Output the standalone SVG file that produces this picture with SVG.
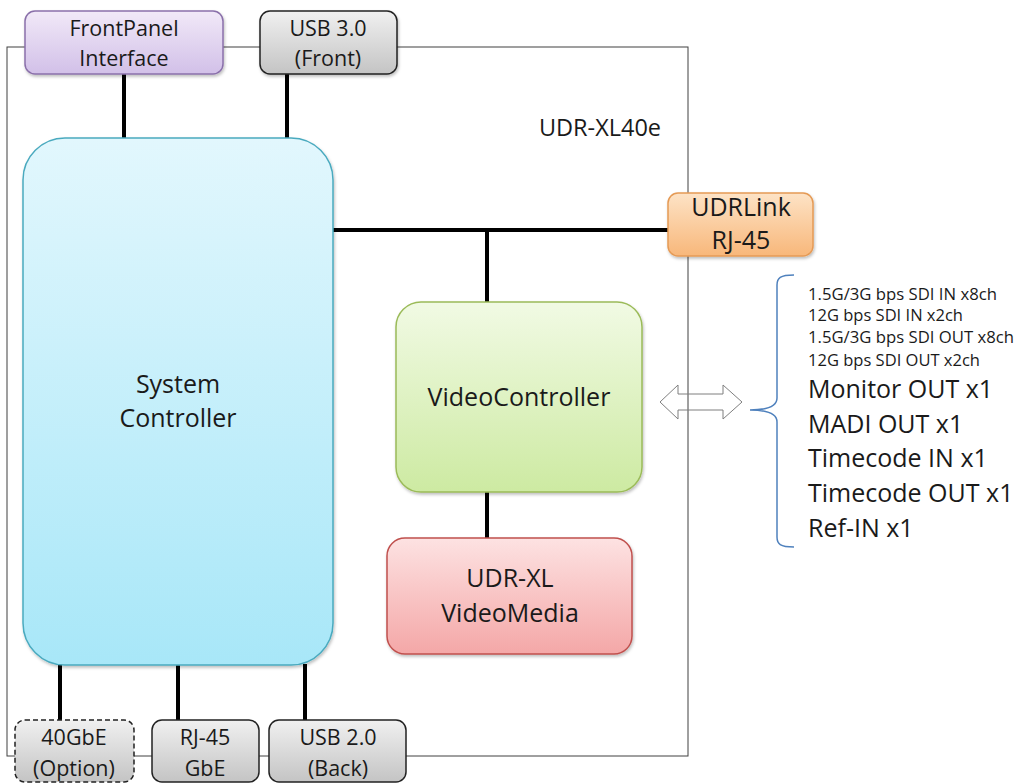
<svg xmlns="http://www.w3.org/2000/svg" width="1019" height="783" viewBox="0 0 1019 783">
<defs>
<linearGradient id="gPurple" x1="0" y1="0" x2="0" y2="1"><stop offset="0" stop-color="#f1e9f8"/><stop offset="1" stop-color="#d2c0e8"/></linearGradient>
<linearGradient id="gGray" x1="0" y1="0" x2="0" y2="1"><stop offset="0" stop-color="#f0f0f0"/><stop offset="1" stop-color="#c4c4c4"/></linearGradient>
<linearGradient id="gBlue" x1="0" y1="0" x2="0" y2="1"><stop offset="0" stop-color="#e2f7fd"/><stop offset="1" stop-color="#a8e7f8"/></linearGradient>
<linearGradient id="gOrange" x1="0" y1="0" x2="0" y2="1"><stop offset="0" stop-color="#fde3c6"/><stop offset="1" stop-color="#f8b77a"/></linearGradient>
<linearGradient id="gGreen" x1="0" y1="0" x2="0" y2="1"><stop offset="0" stop-color="#f1fae4"/><stop offset="1" stop-color="#cdeaa2"/></linearGradient>
<linearGradient id="gRed" x1="0" y1="0" x2="0" y2="1"><stop offset="0" stop-color="#fde2e2"/><stop offset="1" stop-color="#f4a7a7"/></linearGradient>
<filter id="sh" x="-10%" y="-10%" width="120%" height="130%"><feDropShadow dx="1" dy="2" stdDeviation="1.5" flood-color="#000" flood-opacity="0.25"/></filter>
</defs>
<style>
text{font-family:"Open Sans","Liberation Sans",sans-serif;fill:#1a1a1a;text-anchor:middle}
.lbl{font-size:21.5px}
.big{font-size:25px}
.conn{stroke:#000;stroke-width:4;fill:none}
.frame{stroke:#404040;stroke-width:1;fill:none}
.side{text-anchor:start}
.s{font-size:15.5px}
.l{font-size:25px}
</style>
<rect class="frame" x="7" y="47" width="681" height="709"/>
<g id="connectors">
<line class="conn" x1="124" y1="74" x2="124" y2="138"/>
<line class="conn" x1="287" y1="74" x2="287" y2="138"/>
<line class="conn" x1="333" y1="230" x2="668" y2="230"/>
<line class="conn" x1="487" y1="230" x2="487" y2="302"/>
<line class="conn" x1="487" y1="492" x2="487" y2="538"/>
<line class="conn" x1="60" y1="664" x2="60" y2="720"/>
<line class="conn" x1="178" y1="664" x2="178" y2="720"/>
<line class="conn" x1="305" y1="664" x2="305" y2="720"/>
</g>
<g id="frontpanel"><rect x="25" y="11" width="198" height="63" rx="10" fill="url(#gPurple)" stroke="#8a70aa" stroke-width="1.5" filter="url(#sh)"/><text class="lbl" x="124" y="36">FrontPanel</text><text class="lbl" x="124" y="66">Interface</text></g>
<g id="usb30"><rect x="260" y="11" width="137" height="63" rx="10" fill="url(#gGray)" stroke="#222" stroke-width="1.5" filter="url(#sh)"/><text class="lbl" x="328" y="36">USB 3.0</text><text class="lbl" x="328" y="66">(Front)</text></g>
<text id="title" class="big" x="600" y="136" style="font-size:23.5px">UDR-XL40e</text>
<g id="system"><rect x="23" y="138" width="310" height="527" rx="42" fill="url(#gBlue)" stroke="#4aaabf" stroke-width="1.5" filter="url(#sh)"/><text class="big" x="178" y="393">System</text><text class="big" x="178" y="427">Controller</text></g>
<g id="udrlink"><rect x="668" y="193" width="145" height="63" rx="10" fill="url(#gOrange)" stroke="#e59a55" stroke-width="1.5" filter="url(#sh)"/><text class="big" x="741" y="216">UDRLink</text><text class="big" x="741" y="249">RJ-45</text></g>
<g id="video"><rect x="396" y="302" width="246" height="190" rx="25" fill="url(#gGreen)" stroke="#9bbb59" stroke-width="1.5" filter="url(#sh)"/><text class="big" x="519" y="406">VideoController</text></g>
<g id="media"><rect x="387" y="538" width="245" height="116" rx="18" fill="url(#gRed)" stroke="#c0504d" stroke-width="1.5" filter="url(#sh)"/><text class="big" x="510" y="587">UDR-XL</text><text class="big" x="510" y="622">VideoMedia</text></g>
<g id="opt40"><rect x="15" y="720" width="119" height="62" rx="10" fill="url(#gGray)" stroke="#222" stroke-width="1.5" stroke-dasharray="5,3"/><text class="lbl" x="74" y="745">40GbE</text><text class="lbl" x="74" y="776">(Option)</text></g>
<g id="rj45"><rect x="152" y="720" width="107" height="62" rx="10" fill="url(#gGray)" stroke="#222" stroke-width="1.5"/><text class="lbl" x="205" y="745">RJ-45</text><text class="lbl" x="205" y="776">GbE</text></g>
<g id="usb20"><rect x="269" y="720" width="137" height="62" rx="10" fill="url(#gGray)" stroke="#222" stroke-width="1.5"/><text class="lbl" x="338" y="745">USB 2.0</text><text class="lbl" x="338" y="776">(Back)</text></g>
<g id="arrow"><path d="M660,402 L678,385 L678,394 L723,394 L723,385 L742,402 L723,419 L723,410 L678,410 L678,419 Z" fill="none" stroke="#7f7f7f" stroke-width="1"/></g>
<g id="brace"><path d="M794,275 C780,275 777,278 777,285 L777,398 C777,405 770,410 750,410 C770,410 777,415 777,422 L777,537 C777,544 780,547 794,547" fill="none" stroke="#4f81bd" stroke-width="1.5"/></g>
<g id="list">
<text class="side s" x="808" y="300" textLength="189" lengthAdjust="spacingAndGlyphs">1.5G/3G bps SDI IN x8ch</text>
<text class="side s" x="808" y="321" textLength="155" lengthAdjust="spacingAndGlyphs">12G bps SDI IN x2ch</text>
<text class="side s" x="808" y="343" textLength="206" lengthAdjust="spacingAndGlyphs">1.5G/3G bps SDI OUT x8ch</text>
<text class="side s" x="808" y="366" textLength="172" lengthAdjust="spacingAndGlyphs">12G bps SDI OUT x2ch</text>
<text class="side l" x="808" y="398">Monitor OUT x1</text>
<text class="side l" x="808" y="433">MADI OUT x1</text>
<text class="side l" x="808" y="467">Timecode IN x1</text>
<text class="side l" x="808" y="502">Timecode OUT x1</text>
<text class="side l" x="808" y="537">Ref-IN x1</text>
</g>
</svg>
